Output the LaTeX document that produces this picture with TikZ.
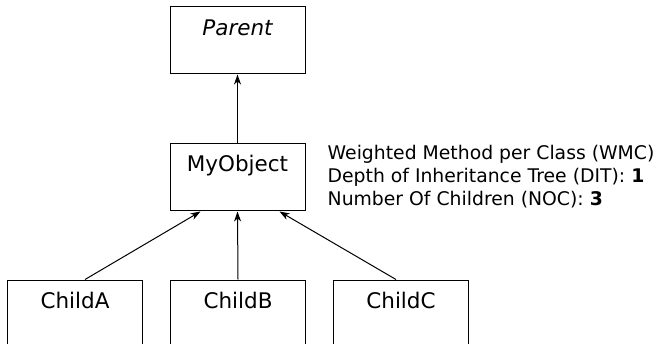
\documentclass[tikz,border=0pt]{standalone}
\usepackage{fontspec}
\setmainfont{DejaVu Sans}
\usetikzlibrary{arrows.meta,calc}
\begin{document}
\begin{tikzpicture}[x=1pt,y=-1pt,
  classbox/.style={draw, line width=1pt, minimum width=135pt, minimum height=67pt,
    anchor=north west, inner sep=0pt},
  classname/.style={anchor=base, inner sep=0pt, font=\fontsize{21.5}{24}\selectfont},
  metrics/.style={anchor=north west, inner sep=0pt, align=left,
    font=\fontsize{18.8}{23}\selectfont},
  inherit/.style={draw, line width=1pt, -{Stealth[length=10pt,width=7pt,inset=3pt]}}]
  \useasboundingbox (0,0) rectangle (660,344);
  \clip (0,0) rectangle (660,344);

  % class boxes
  \node[classbox] (parent) at (169.5,6.5) {};
  \node[classbox] (myobj)  at (169.5,143.5) {};
  \node[classbox, minimum height=70pt] (childA) at (7,279.5) {};
  \node[classbox, minimum height=70pt] (childB) at (170,279.5) {};
  \node[classbox, minimum height=70pt] (childC) at (333,279.5) {};

  % class names
  \node[classname] (parentname) at ($(parent.north)+(0,29.5)$) {\itshape Parent};
  \node[classname] (myobjname)  at ($(myobj.north)+(0,28.5)$) {MyObject};
  \node[classname] (childAname) at ($(childA.north)+(0,29)$) {ChildA};
  \node[classname] (childBname) at ($(childB.north)+(0,29)$) {ChildB};
  \node[classname] (childCname) at ($(childC.north)+(0,29)$) {ChildC};

  % inheritance arrows
  \draw[inherit] (myobj.north) -- (parent.south);
  \draw[inherit] ($(childA.north)+(10,0)$) -- ($(myobj.south)+(-37,0)$);
  \draw[inherit] (childB.north) -- (myobj.south);
  \draw[inherit] ($(childC.north)+(-5,0)$) -- ($(myobj.south)+(42,0)$);

  % metrics
  \node[metrics] (metricsText) at (327.5,145) {Weighted Method per Class (WMC)\\
    Depth of Inheritance Tree (DIT): \textbf{1}\\
    Number Of Children (NOC): \textbf{3}};
\end{tikzpicture}
\end{document}
